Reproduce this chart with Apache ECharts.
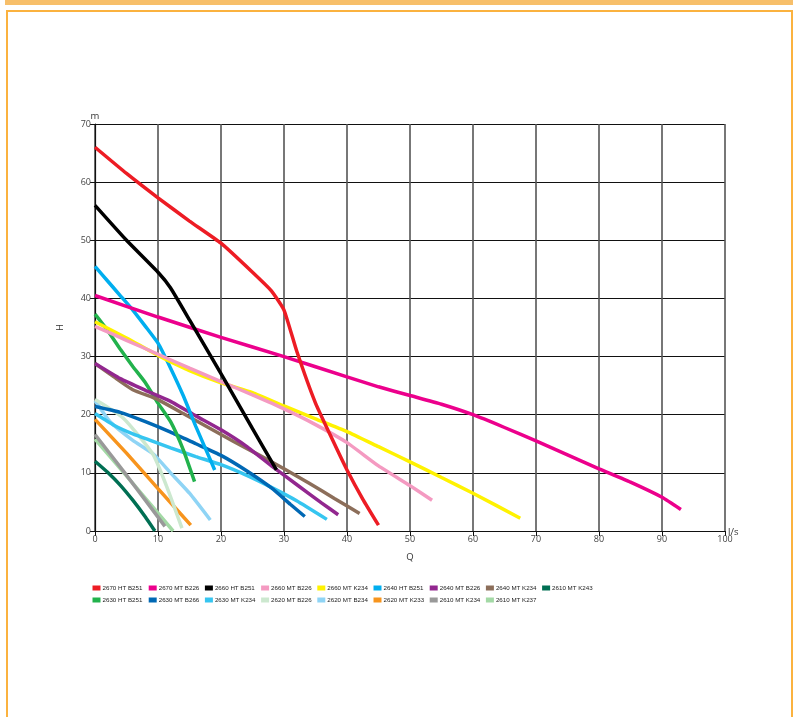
<!DOCTYPE html>
<html>
<head>
<meta charset="utf-8">
<script src="https://cdn.jsdelivr.net/npm/echarts@6/dist/echarts.min.js"></script>
<style>
  html, body { margin: 0; padding: 0; background: #fff; }
  #wrap { position: relative; width: 798px; height: 717px; overflow: hidden; }
  #chart { position: absolute; left: 0; top: 0; width: 798px; height: 717px; }
  #band { position: absolute; left: 5px; top: 0; width: 788px; height: 5px; background: #f7bf6a; }
  #frame { position: absolute; left: 6px; top: 10px; width: 783px; height: 720px;
           border: 2px solid #fbb23f; border-bottom: none; pointer-events: none; }
</style>
</head>
<body>
<div id="wrap">
  <div id="band"></div>
  <div id="frame"></div>
  <div id="chart"></div>
</div>
<script>
// ---- data (Q in l/s, H in m) ----
const xTicks = [0, 10, 20, 30, 40, 50, 60, 70, 80, 90, 100];
const yTicks = [0, 10, 20, 30, 40, 50, 60, 70];

const names = ["2670 HT B251", "2670 MT B226", "2660 HT B251", "2660 MT B226", "2660 MT K234",
  "2640 HT B251", "2640 MT B226", "2640 MT K234", "2610 MT K243",
  "2630 HT B251", "2630 MT B266", "2630 MT K234", "2620 MT B226", "2620 MT B234",
  "2620 MT K233", "2610 MT K234", "2610 MT K237"];

const colors = ["#ed1c24", "#ec008c", "#000000", "#f49ac1", "#fff200",
  "#00aeef", "#92278f", "#8c6e5a", "#006f53",
  "#22b24c", "#0068b4", "#36c5f0", "#cce8cf", "#8fd4f5",
  "#f7941d", "#999999", "#a3d9a5"];

const c2670HT_B251 = [[0,66],[5,61.5],[10,57.3],[15,53.3],[20,49.5],[25,44.5],[28,41.3],[30,38],[32,31],[35,22],[38,15],[40,10.5],[42.5,5.5],[45,1]];
const c2670MT_B226 = [[0,40.5],[10,36.8],[20,33.3],[30,30],[40,26.5],[45,24.8],[50,23.3],[55,21.8],[60,20],[65,17.8],[70,15.5],[75,13.1],[80,10.7],[85,8.4],[90,5.8],[93,3.7]];
const c2660HT_B251 = [[0,56],[5,50],[10,44.5],[12,41.8],[15,36.3],[19,28.9],[22,23.3],[25,17.6],[28.8,10.5]];
const c2660MT_B226 = [[0,35.2],[5,32.8],[10,30.4],[15,28],[20,25.7],[25,23.4],[30,21],[35,18.3],[40,15.2],[45,11.2],[50,7.8],[53.5,5.3]];
const c2660MT_K234 = [[0,36],[5,33.2],[10,30.2],[15,27.6],[20,25.5],[25,23.8],[30,21.5],[35,19.3],[40,17.1],[45,14.5],[50,11.9],[55,9.2],[60,6.5],[67.5,2.2]];
const c2640HT_B251 = [[0,45.5],[2,43],[4,40.5],[6,38],[8,35.2],[10,32.3],[12,28],[14,23.3],[16,18],[18,13],[19,10.5]];
const c2640MT_B226 = [[0,28.8],[4,26.2],[8,24.2],[12,22.3],[16,19.8],[20,17.4],[24,14.6],[28,11.2],[32,8],[36,4.8],[38.6,2.8]];
const c2640MT_K234 = [[0,28.8],[3,26.5],[6,24.3],[10,22.6],[14,20.2],[18,17.8],[22,15.4],[26,13.1],[30,10.7],[34,8.2],[38,5.6],[42,3]];
const c2610MT_K243 = [[0,12],[2,10.1],[4,7.9],[6,5.3],[8,2.4],[9.5,0]];
const c2630HT_B251 = [[0,37.3],[2,34.5],[4,31.3],[6,28.3],[8,25.5],[10,22],[12,18.8],[14,14],[15.8,8.5]];
const c2630MT_B266 = [[0,21.4],[4,20.4],[8,18.8],[12,17],[16,15],[20,13],[24,10.4],[28,7.4],[31,4.6],[33.3,2.5]];
const c2630MT_K234 = [[0,20.2],[3,18.2],[6,16.7],[9,15.5],[12,14.3],[16,12.8],[20,11.4],[24,9.6],[28,7.5],[32,5.2],[36.8,2]];
const c2620MT_B226 = [[0,22.6],[2,21.3],[4.5,19.4],[7,16.3],[9.3,13],[11.4,7.6],[13.8,0.5]];
const c2620MT_B234 = [[0,22.4],[2.4,18.8],[6,15.6],[9.3,13.2],[12,10],[15,6.5],[18.3,1.9]];
const c2620MT_K233 = [[0,19.2],[5,13.4],[10,7.3],[15.2,1]];
const c2610MT_K234 = [[0,16.6],[5,9.6],[11.1,0.8]];
const c2610MT_K237 = [[0,15.8],[6,8.2],[12.4,0]];

const curves = [c2670HT_B251, c2670MT_B226, c2660HT_B251, c2660MT_B226, c2660MT_K234,
  c2640HT_B251, c2640MT_B226, c2640MT_K234, c2610MT_K243,
  c2630HT_B251, c2630MT_B266, c2630MT_K234, c2620MT_B226, c2620MT_B234,
  c2620MT_K233, c2610MT_K234, c2610MT_K237];

// draw order (last on top)
const drawOrder = [16, 15, 14, 13, 12, 8, 11, 10, 9, 7, 6, 5, 4, 3, 1, 2, 0];

const series = drawOrder.map(i => ({
  name: names[i],
  type: 'line',
  data: curves[i],
  showSymbol: false,
  symbol: 'none',
  smooth: 0.15,
  color: colors[i],
  lineStyle: { width: 3.5, color: colors[i], cap: 'butt' },
  emphasis: { disabled: true },
  animation: false
}));

// legends: two rows, fixed columns
const legendFont = "'Liberation Sans', 'Noto Sans', sans-serif";
const legends = names.map((n, i) => {
  const row = i < 9 ? 0 : 1;
  const col = i < 9 ? i : i - 9;
  return {
    data: [n],
    left: 92.5 + col * 56.2,
    top: (row === 0 ? 589 : 601) - 4,
    padding: 0,
    itemWidth: 8,
    itemHeight: 5,
    itemGap: 0,
    icon: 'rect',
    selectedMode: false,
    textStyle: { fontSize: 6.2, color: '#222', fontFamily: legendFont, padding: [0, 0, 0, -3] }
  };
});

const axisFont = "'Open Sans', 'Noto Sans', sans-serif";
const chart = echarts.init(document.getElementById('chart'), null, { renderer: 'canvas' });
chart.setOption({
  animation: false,
  backgroundColor: 'transparent',
  grid: { left: 95, right: 73, top: 124, bottom: 186 },
  legend: legends,
  xAxis: [{
    type: 'value', min: xTicks[0], max: xTicks[xTicks.length - 1], interval: 10,
    name: 'Q', nameLocation: 'middle', nameGap: 21,
    nameTextStyle: { fontSize: 9.5, color: '#333', fontFamily: axisFont },
    axisLine: { show: true, lineStyle: { color: '#111', width: 1.2 } },
    axisTick: { show: true, length: 5, lineStyle: { color: '#111' } },
    axisLabel: { fontSize: 9, color: '#444', margin: 4, fontFamily: axisFont },
    splitLine: { show: true, lineStyle: { color: '#555', width: 1.6 } }
  }, {
    type: 'value', min: 0, max: 100, position: 'bottom',
    name: 'l/s', nameLocation: 'end', nameGap: 3,
    nameTextStyle: { fontSize: 9.5, color: '#333', fontFamily: axisFont, verticalAlign: 'top', padding: [-4, 0, 0, 0] },
    axisLine: { show: false }, axisTick: { show: false }, axisLabel: { show: false }, splitLine: { show: false }
  }],
  yAxis: [{
    type: 'value', min: yTicks[0], max: yTicks[yTicks.length - 1], interval: 10,
    name: 'H', nameLocation: 'middle', nameGap: 30, nameRotate: 90,
    nameTextStyle: { fontSize: 9.5, color: '#333', fontFamily: axisFont },
    axisLine: { show: true, lineStyle: { color: '#111', width: 1.2 } },
    axisTick: { show: true, length: 5, lineStyle: { color: '#111' } },
    axisLabel: { fontSize: 9, color: '#444', margin: 4, fontFamily: axisFont },
    splitLine: { show: true, lineStyle: { color: '#111', width: 1 } }
  }, {
    type: 'value', min: 0, max: 70, position: 'left',
    name: 'm', nameLocation: 'end', nameGap: 3,
    nameTextStyle: { fontSize: 9.5, color: '#333', fontFamily: axisFont, align: 'center' },
    axisLine: { show: false }, axisTick: { show: false }, axisLabel: { show: false }, splitLine: { show: false }
  }],
  series: series
});
</script>
</body>
</html>
